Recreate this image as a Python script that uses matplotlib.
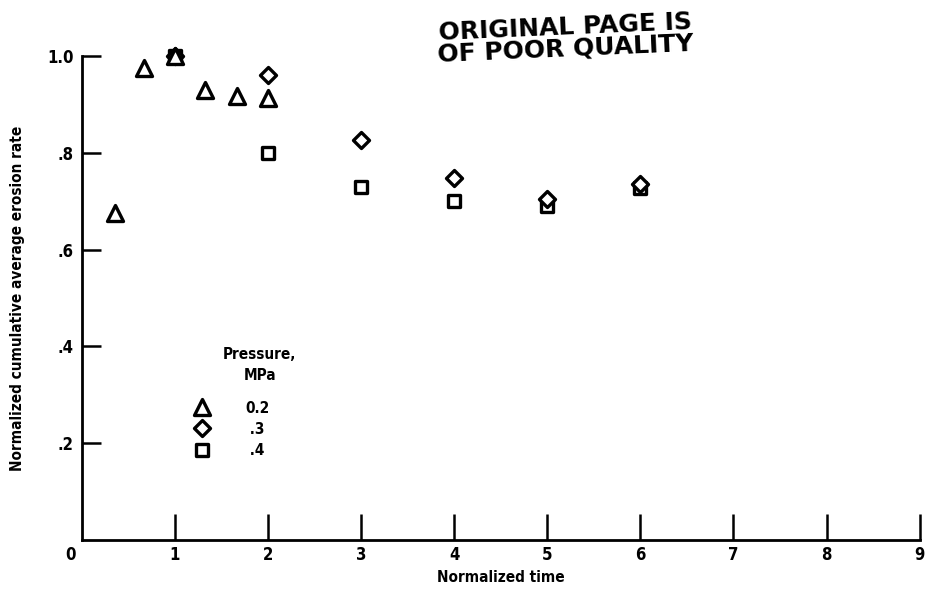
import matplotlib
matplotlib.use("Agg")
import matplotlib.pyplot as plt
from matplotlib.lines import Line2D
from matplotlib.markers import MarkerStyle

# Normalized cumulative average erosion rate vs normalized time
time_02 = [0.36, 0.67, 1.0, 1.33, 1.67, 2.0]
rate_02 = [0.675, 0.975, 1.0, 0.93, 0.918, 0.913]

time_03 = [1.0, 2.0, 3.0, 4.0, 5.0, 6.0]
rate_03 = [1.0, 0.96, 0.826, 0.748, 0.705, 0.736]

time_04 = [1.0, 2.0, 3.0, 4.0, 5.0, 6.0]
rate_04 = [1.0, 0.80, 0.73, 0.70, 0.69, 0.727]

pressures = ["0.2", " .3", " .4"]
x_ticks = [1, 2, 3, 4, 5, 6, 7, 8, 9]
y_ticks = [0.2, 0.4, 0.6, 0.8, 1.0]
y_tick_labels = [".2", ".4", ".6", ".8", "1.0"]

plt.rcParams["font.family"] = ["DejaVu Sans"]
plt.rcParams["font.stretch"] = "condensed"
plt.rcParams["font.weight"] = "bold"

tri = MarkerStyle("^", joinstyle="round")
dia = MarkerStyle("D", joinstyle="round")
sq = MarkerStyle("s", joinstyle="round")

fig = plt.figure(figsize=(9.28, 5.93), dpi=100)
ax = fig.add_axes([0.088, 0.0894, 0.903, 0.8162])

style = dict(linestyle="none", markerfacecolor="white", markeredgecolor="black",
             markeredgewidth=2.4)
ax.plot(time_04, rate_04, marker=sq, markersize=9, clip_on=False, zorder=3, **style)
ax.plot(time_03, rate_03, marker=dia, markersize=8, clip_on=False, zorder=3, **style)
ax.plot(time_02, rate_02, marker=tri, markersize=11, clip_on=False, zorder=3, **style)

ax.set_xlim(0, 9)
ax.set_ylim(0, 1.0)
for side in ("top", "right"):
    ax.spines[side].set_visible(False)
for side in ("left", "bottom"):
    ax.spines[side].set_linewidth(2)

ax.set_xticks(x_ticks)
ax.set_xticklabels([str(t) for t in x_ticks], fontsize=12, fontweight="bold")
ax.set_yticks(y_ticks)
ax.set_yticklabels(y_tick_labels, fontsize=12, fontweight="bold")
ax.tick_params(axis="x", direction="in", length=19, width=1.8, pad=4)
ax.tick_params(axis="y", direction="in", length=14, width=1.8, pad=6)
ax.text(-0.12, -0.012, "0", transform=ax.transData, ha="center", va="top",
        fontsize=12, fontweight="bold")

ax.set_xlabel("Normalized time", fontsize=11, fontweight="bold", labelpad=5)
ax.set_ylabel("Normalized cumulative average erosion rate", fontsize=11,
              fontweight="bold", labelpad=16)

# key: title drawn separately so both lines stay centred
ax.text(0.2124, 0.398, "Pressure,\nMPa", transform=ax.transAxes, ha="center",
        va="top", multialignment="center", fontsize=11, fontweight="bold",
        linespacing=1.45)
handles = [
    Line2D([], [], marker=tri, markersize=11, **style),
    Line2D([], [], marker=dia, markersize=8, **style),
    Line2D([], [], marker=sq, markersize=9, **style),
]
ax.legend(handles, pressures, frameon=False, loc="upper left",
          bbox_to_anchor=(0.122, 0.31), fontsize=11, handlelength=1.0,
          handletextpad=2.3, labelspacing=0.4, borderpad=0.2)

fig.text(0.609, 0.953, "ORIGINAL PAGE IS", fontsize=18, fontweight="bold",
         family="DejaVu Sans", stretch="normal", rotation=2.5, ha="center", va="center")
fig.text(0.609, 0.917, "OF POOR QUALITY", fontsize=18, fontweight="bold",
         family="DejaVu Sans", stretch="normal", rotation=2.5, ha="center", va="center")

fig.savefig("out.png", dpi=100)
